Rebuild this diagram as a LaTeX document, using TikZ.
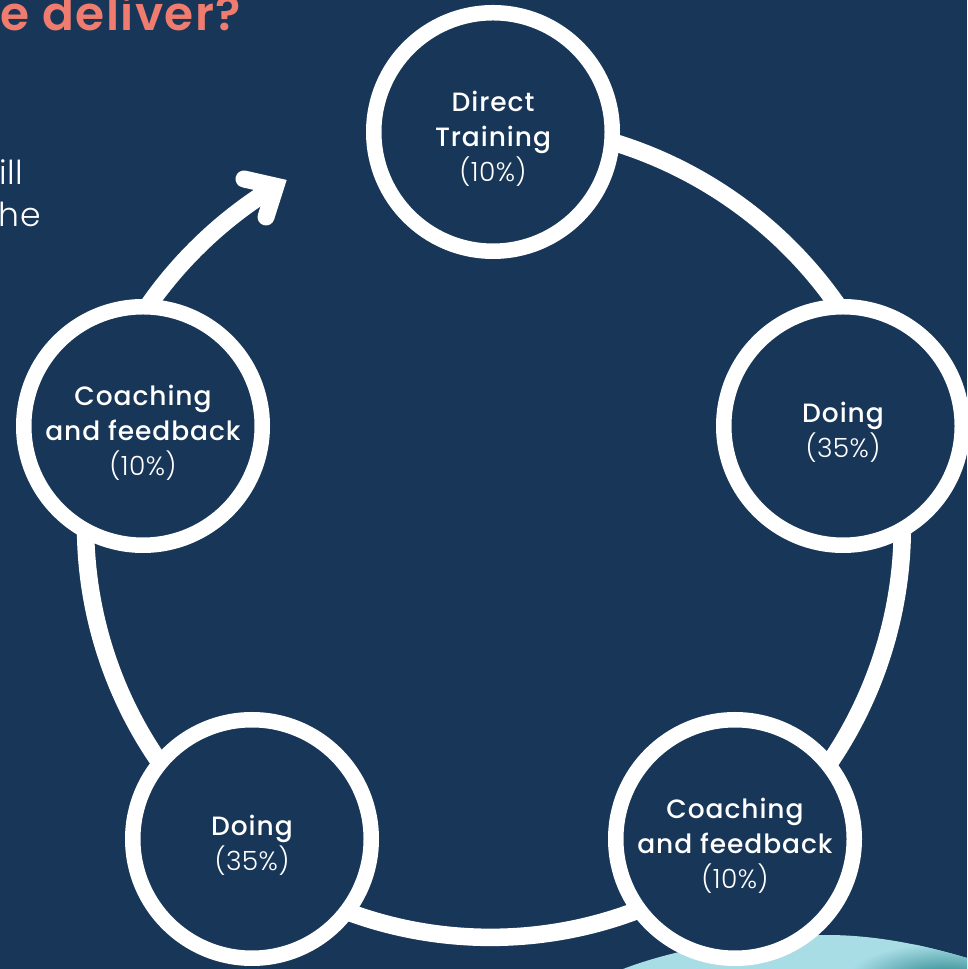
\documentclass[tikz,border=0pt]{standalone}
\usepackage{fontspec}
\setmainfont{Poppins}
\newfontfamily\lightf[LetterSpace=1.5]{Poppins Light}
\newfontfamily\medf[LetterSpace=3.5]{Poppins Medium}
\newfontfamily\titlef[LetterSpace=3]{Poppins SemiBold}
\newcommand\dropline{\mbox{}\\[-2pt]}
\definecolor{navy}{HTML}{183657}
\definecolor{salmon}{HTML}{EF7C6F}
\definecolor{aqua}{HTML}{A9DDE6}
\definecolor{teal2}{HTML}{1F8085}
\tikzset{
  x=1pt,y=1pt,
  stage/.style={circle,draw=white,fill=navy,line width=15.5pt,minimum size=238.5pt,inner sep=0pt,outer sep=3pt,text=white,align=center,font=\fontsize{26.5}{35}\medf},
  ring/.style={draw=white,line width=17.5pt},
  cut/.style={text=white,font=\fontsize{33}{40}\lightf,inner sep=0pt}
}
\begin{document}
\begin{tikzpicture}
\useasboundingbox (0,0) rectangle (967,969);
\fill[navy] (0,0) rectangle (967,969);
% partial photo at the bottom edge
\begin{scope}
  \clip (623,0) .. controls (680,22) and (760,34) .. (827,34) .. controls (880,34) and (930,22) .. (967,11) -- (967,0) -- cycle;
  \fill[aqua] (600,-5) rectangle (967,40);
  \shade[inner color=teal2,outer color=aqua] (945,-12) ellipse (100 and 38);
\end{scope}
\node[anchor=base east,text=salmon,inner sep=0pt,font=\fontsize{47}{55}\titlef] (title) at (241,938) {e deliver?};
\node[cut,anchor=base east] (frag1) at (23,784) {ill};
\node[cut,anchor=base east] (frag2) at (41,742) {he};
\node[stage] (top) at (493,837) {\dropline Direct\\Training\\{\lightf (10\%)}};
\node[stage] (right) at (843,543) {\dropline Doing\\{\lightf (35\%)}};
\node[stage] (br) at (735,130) {\dropline Coaching\\and feedback\\{\lightf (10\%)}};
\node[stage] (bl) at (252,130) {\dropline Doing\\{\lightf (35\%)}};
\node[stage] (left) at (143,543) {\dropline Coaching\\and feedback\\{\lightf (10\%)}};
\coordinate (tipbase) at (275.8,782.8);
\coordinate (barbA) at (244,790);
\coordinate (barbB) at (266,752);
\draw[ring] (top.-5.8) to[bend left=18.9,looseness=.873] (right.93.6);
\draw[ring] (right.-61.6) to[bend left=16.7,looseness=.868] (br.39.4);
\draw[ring] (br.216) to[bend left=20.4,looseness=.875] (bl.-37.4);
\draw[ring] (bl.140) to[bend left=16.7,looseness=.868] (left.242);
\draw[ring] (left.87) to[bend left=11.9,looseness=.86] (tipbase);
\draw[draw=white,line width=17pt,line cap=round,miter limit=10] (barbA) -- (tipbase) -- (barbB);
\end{tikzpicture}
\end{document}
